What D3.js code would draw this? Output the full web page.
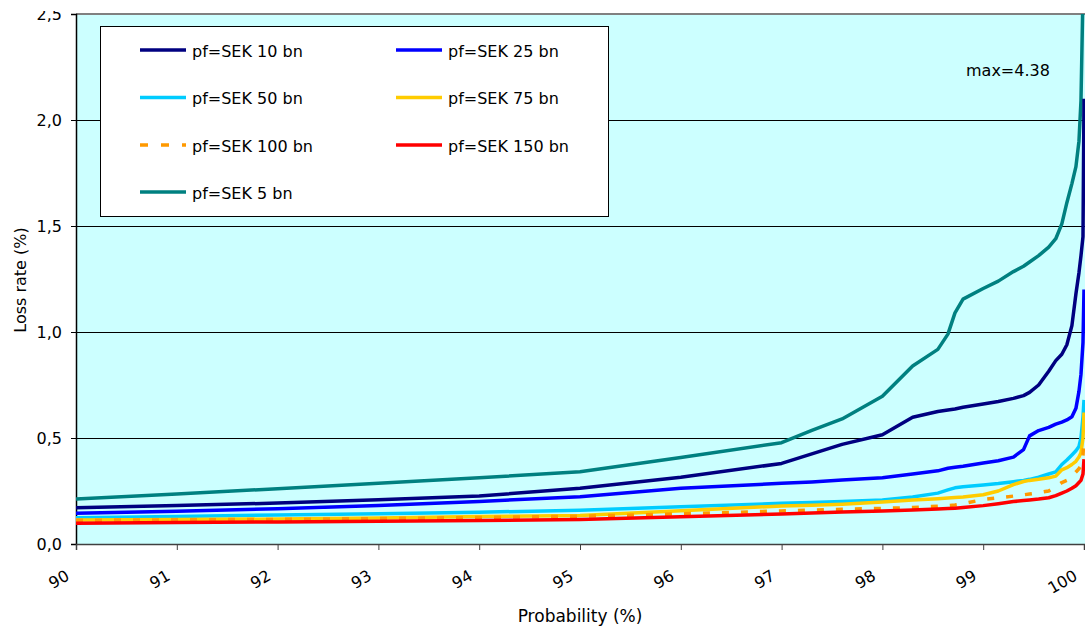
<!DOCTYPE html>
<html>
<head>
<meta charset="utf-8">
<script src="https://cdn.jsdelivr.net/npm/d3@7"></script>
<style>
  html, body { margin: 0; padding: 0; background: #ffffff; }
  svg { display: block; font-family: "DejaVu Sans", Verdana, sans-serif; }
</style>
</head>
<body>
<svg id="chart" width="1085" height="631"></svg>
<script>
// Probability grid (%)
const probs = [90, 91, 92, 93, 94, 95, 96, 97, 97.3, 97.6, 98, 98.3, 98.55, 98.65, 98.72, 98.8, 99, 99.15, 99.3, 99.4, 99.46, 99.55, 99.65, 99.72, 99.78, 99.83, 99.88, 99.92, 99.95, 99.97, 99.99, 100];

// Loss rate (%) per portfolio size
const sek5   = [0.212, 0.236, 0.261, 0.287, 0.312, 0.341, 0.408, 0.478, 0.536, 0.590, 0.697, 0.840, 0.918, 0.990, 1.090, 1.155, 1.205, 1.240, 1.285, 1.310, 1.330, 1.360, 1.400, 1.440, 1.510, 1.610, 1.700, 1.780, 1.900, 2.090, 2.600, 4.38];
const sek10  = [0.171, 0.182, 0.193, 0.209, 0.226, 0.263, 0.315, 0.380, 0.425, 0.470, 0.515, 0.598, 0.625, 0.632, 0.637, 0.645, 0.660, 0.672, 0.687, 0.700, 0.715, 0.750, 0.815, 0.865, 0.895, 0.940, 1.030, 1.180, 1.280, 1.360, 1.450, 2.100];
const sek25  = [0.145, 0.155, 0.166, 0.182, 0.201, 0.223, 0.263, 0.286, 0.293, 0.302, 0.313, 0.330, 0.345, 0.357, 0.362, 0.367, 0.382, 0.393, 0.410, 0.445, 0.510, 0.535, 0.550, 0.565, 0.575, 0.585, 0.600, 0.640, 0.720, 0.800, 0.950, 1.200];
const sek50  = [0.124, 0.130, 0.137, 0.143, 0.150, 0.159, 0.176, 0.192, 0.196, 0.200, 0.208, 0.222, 0.240, 0.255, 0.265, 0.270, 0.278, 0.285, 0.294, 0.300, 0.305, 0.315, 0.330, 0.340, 0.375, 0.396, 0.420, 0.440, 0.460, 0.500, 0.600, 0.680];
const sek75  = [0.113, 0.115, 0.118, 0.123, 0.130, 0.134, 0.157, 0.179, 0.183, 0.188, 0.198, 0.207, 0.214, 0.217, 0.219, 0.222, 0.232, 0.250, 0.280, 0.295, 0.300, 0.305, 0.312, 0.320, 0.350, 0.360, 0.375, 0.390, 0.410, 0.430, 0.500, 0.620];
const sek100 = [0.112, 0.114, 0.116, 0.120, 0.125, 0.131, 0.142, 0.156, 0.160, 0.164, 0.168, 0.172, 0.178, 0.181, 0.184, 0.190, 0.210, 0.218, 0.226, 0.232, 0.236, 0.242, 0.250, 0.270, 0.290, 0.300, 0.320, 0.340, 0.355, 0.370, 0.420, 0.500];
const sek150 = [0.098, 0.102, 0.104, 0.107, 0.111, 0.116, 0.129, 0.142, 0.146, 0.151, 0.156, 0.160, 0.165, 0.167, 0.169, 0.172, 0.181, 0.190, 0.200, 0.205, 0.208, 0.212, 0.218, 0.228, 0.240, 0.250, 0.263, 0.275, 0.290, 0.300, 0.330, 0.400];

const seriesNames = ["pf=SEK 10 bn", "pf=SEK 25 bn", "pf=SEK 50 bn", "pf=SEK 75 bn", "pf=SEK 100 bn", "pf=SEK 150 bn", "pf=SEK 5 bn"];
const seriesColors = ["#000080", "#0000ff", "#00ccff", "#ffcc00", "#ff9900", "#ff0000", "#008080"];
const seriesData = [sek10, sek25, sek50, sek75, sek100, sek150, sek5];
const seriesDashed = [false, false, false, false, true, false, false];

const xTicks = [90, 91, 92, 93, 94, 95, 96, 97, 98, 99, 100];
const yTicks = [0, 0.5, 1.0, 1.5, 2.0, 2.5];
const maxNote = "max=4.38";

const svg = d3.select("#chart");
const L = 76, R = 1084, T = 14, B = 544;
const x = d3.scaleLinear().domain([90, 100]).range([L, R]);
const y = d3.scaleLinear().domain([0, 2.5]).range([B, T]);
const fmt = v => d3.format(".1f")(v).replace(".", ",");
const FONT = "DejaVu Sans, Verdana, sans-serif";

const defs = svg.append("defs");
defs.append("clipPath").attr("id", "plotclip")
  .append("rect").attr("x", L).attr("y", T).attr("width", R - L + 2).attr("height", B - T);
defs.append("clipPath").attr("id", "ylabclip")
  .append("rect").attr("x", 0).attr("y", 11).attr("width", L + 3).attr("height", 600);

// plot background
svg.append("rect").attr("x", L).attr("y", T).attr("width", R - L + 1).attr("height", B - T)
  .attr("fill", "#ccffff");

// gridlines
svg.append("g").selectAll("line").data(yTicks.filter(d => d > 0 && d < 2.5)).join("line")
  .attr("x1", L).attr("x2", R + 1).attr("y1", d => y(d)).attr("y2", d => y(d))
  .attr("stroke", "#000").attr("stroke-width", 1).attr("shape-rendering", "crispEdges");

// top border
svg.append("line").attr("x1", L).attr("x2", R + 1).attr("y1", T).attr("y2", T)
  .attr("stroke", "#808080").attr("stroke-width", 1.5).attr("shape-rendering", "crispEdges");

// y axis (wrapped in an untransformed clipped group)
const yWrap = svg.append("g").attr("clip-path", "url(#ylabclip)");
const yAxis = d3.axisLeft(y).tickValues(yTicks).tickSize(5).tickFormat(fmt);
const gy = yWrap.append("g").attr("transform", `translate(${L},0)`).call(yAxis);
gy.select(".domain").attr("stroke", "#000").attr("stroke-width", 1.5);
gy.selectAll(".tick line").attr("stroke", "#000");
gy.selectAll(".tick text").attr("font-size", 16).attr("fill", "#000")
  .attr("font-family", FONT).attr("x", -14);

// x axis
const xAxis = d3.axisBottom(x).tickValues(xTicks).tickSize(6).tickFormat(d3.format("d"));
const gx = svg.append("g").attr("transform", `translate(0,${B})`).call(xAxis);
gx.select(".domain").attr("stroke", "#404040").attr("stroke-width", 1.5);
gx.selectAll(".tick line").attr("stroke", "#404040");
gx.selectAll(".tick text")
  .attr("font-size", 16).attr("fill", "#000")
  .attr("font-family", FONT)
  .attr("text-anchor", "end")
  .attr("dy", 0).attr("y", 0)
  .attr("transform", "translate(-6,35) rotate(-30)");

// lines
const line = d3.line().x((d, i) => x(probs[i])).y(d => y(d));
const gl = svg.append("g").attr("clip-path", "url(#plotclip)");
const order = [6, 0, 1, 2, 3, 4, 5];
order.forEach(k => {
  gl.append("path").datum(seriesData[k])
    .attr("d", line)
    .attr("fill", "none")
    .attr("stroke", seriesColors[k])
    .attr("stroke-width", 3.5)
    .attr("stroke-linejoin", "round")
    .attr("stroke-dasharray", seriesDashed[k] ? "7,12" : null);
});

// max annotation
svg.append("text").attr("x", 966).attr("y", 76).attr("font-size", 16).attr("fill", "#000")
  .attr("font-family", FONT).text(maxNote);

// legend
const lg = svg.append("g");
lg.append("rect").attr("x", 100.5).attr("y", 26.5).attr("width", 508).attr("height", 190)
  .attr("fill", "#fff").attr("stroke", "#000").attr("stroke-width", 1);
const colX = [140, 396];
const rowY = [50, 97.5, 145, 192];
seriesNames.forEach((name, i) => {
  const cx = colX[i % 2], cy = rowY[Math.floor(i / 2)];
  lg.append("line").attr("x1", cx).attr("x2", cx + 46).attr("y1", cy).attr("y2", cy)
    .attr("stroke", seriesColors[i]).attr("stroke-width", 3.5)
    .attr("stroke-dasharray", seriesDashed[i] ? "8,13" : null);
  lg.append("text").attr("x", cx + 52).attr("y", cy + 1).attr("dy", "0.35em")
    .attr("font-size", 16).attr("fill", "#000").attr("font-family", FONT).text(name);
});

// axis titles
svg.append("text").attr("transform", "translate(26,280) rotate(-90)")
  .attr("text-anchor", "middle").attr("font-size", 16).attr("fill", "#000")
  .attr("font-family", FONT).text("Loss rate (%)");
svg.append("text").attr("x", 580).attr("y", 622)
  .attr("text-anchor", "middle").attr("font-size", 17).attr("fill", "#000")
  .attr("font-family", FONT).text("Probability (%)");
</script>
</body>
</html>
